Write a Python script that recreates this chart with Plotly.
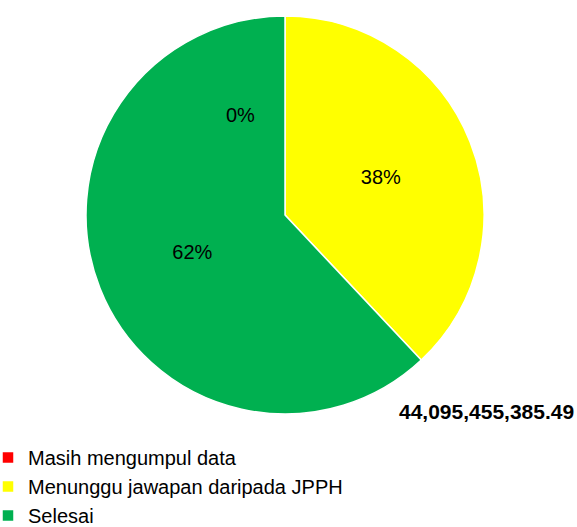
import plotly.graph_objects as go

labels = ['Masih mengumpul data', 'Menunggu jawapan daripada JPPH', 'Selesai']
values = [0.0, 16756273046.49, 27339182339.00]
colors = ['#FF0000', '#FFFF00', '#00B050']
total_text = '44,095,455,385.49'

W, H = 577, 527
FONT = 'Liberation Sans, Arial'

fig = go.Figure()
fig.add_trace(go.Pie(
    labels=labels,
    values=values,
    sort=False,
    direction='clockwise',
    rotation=0,
    marker=dict(colors=colors, line=dict(color='white', width=1.5)),
    textinfo='percent',
    texttemplate='%{percent:.0%}',
    textposition='inside',
    insidetextorientation='horizontal',
    textfont=dict(family=FONT, size=20, color='black'),
    hoverinfo='label+value+percent',
    domain=dict(x=[86 / W, 484 / W], y=[1 - 414 / H, 1 - 16 / H]),
))

# Excel-style label for the empty slice
fig.add_annotation(
    x=241 / W, y=1 - 115 / H, xref='paper', yref='paper',
    xanchor='center', yanchor='middle',
    text='0%', showarrow=False,
    font=dict(family=FONT, size=20, color='black'),
)

# total figure
fig.add_annotation(
    x=576 / W, y=1 - 411 / H, xref='paper', yref='paper',
    xanchor='right', yanchor='middle',
    text='<b>' + total_text + '</b>', showarrow=False,
    font=dict(family=FONT, size=21, color='black'),
)

fig.update_layout(
    width=W, height=H,
    margin=dict(l=0, r=0, t=0, b=0),
    paper_bgcolor='white',
    plot_bgcolor='white',
    font=dict(family=FONT, color='black'),
    legend=dict(
        x=0, xanchor='left', y=0, yanchor='bottom',
        indentation=-12,
        font=dict(family=FONT, size=20, color='black'),
        bgcolor='rgba(0,0,0,0)',
    ),
)

# no page margin; nudge the legend down a little (it sits flush at the bottom in the original)
js = """
document.body.style.margin = '0';
var lg = document.querySelector('.legend');
if (lg) {
  var m = /translate\\(([-\\d.]+),\\s*([-\\d.]+)\\)/.exec(lg.getAttribute('transform'));
  if (m) lg.setAttribute('transform', 'translate(' + m[1] + ',' + (parseFloat(m[2]) + 8) + ')');
}
"""
fig.write_html('out.html', config={'displayModeBar': False}, post_script=js)
